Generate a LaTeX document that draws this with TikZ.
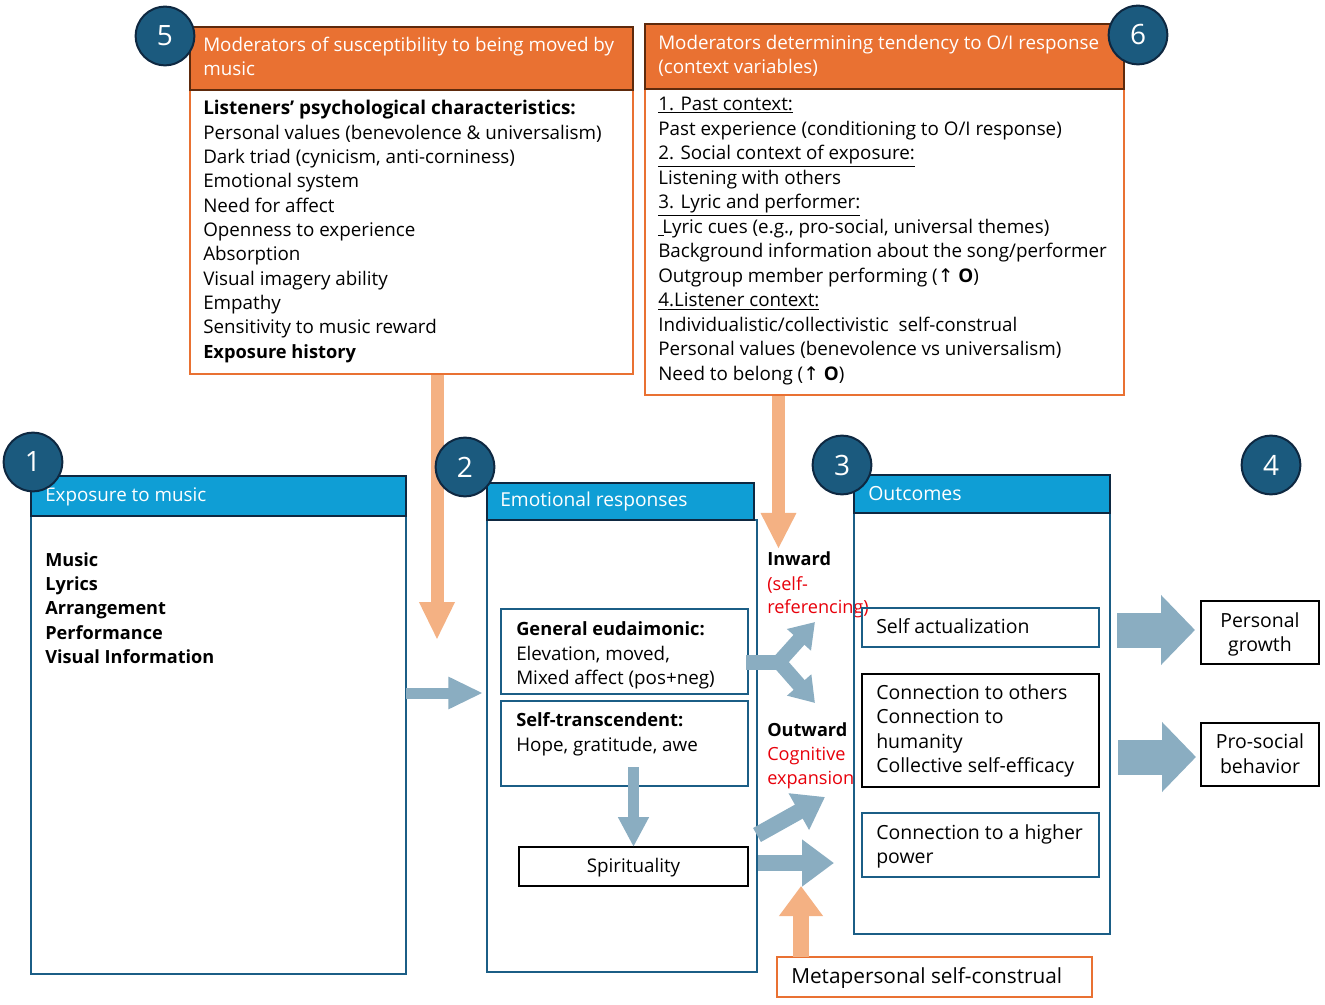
\documentclass[tikz,border=0pt]{standalone}
\usepackage{fontspec}
\setmainfont{Open Sans}
\newfontfamily\symfont{DejaVu Sans}
\usetikzlibrary{arrows.meta,fit}
\definecolor{ohead}{HTML}{E97132}
\definecolor{oedge}{HTML}{5E2A0C}
\definecolor{oline}{HTML}{E97132}
\definecolor{bhead}{HTML}{0F9ED5}
\definecolor{bedge}{HTML}{0E2841}
\definecolor{bline}{HTML}{1B5E86}
\definecolor{circfill}{HTML}{1B5A7E}
\definecolor{arrblue}{HTML}{8AADC1}
\definecolor{arrorange}{HTML}{F4B183}
\definecolor{redtxt}{HTML}{E8000B}
\newcommand\fs{\fontsize{14.1}{18.3}\selectfont}
\newcommand\fb{\fontsize{13.7}{18.3}\selectfont\bfseries}
\newcommand\fo{\fontsize{14.6}{18.3}\selectfont}
\tikzset{
  ohdr/.style={inner sep=0pt, fill=ohead, draw=oedge, line width=1.5pt},
  obody/.style={inner sep=0pt, fill=white, draw=oline, line width=1.1pt},
  bhdr/.style={inner sep=0pt, fill=bhead, draw=bedge, line width=1.5pt},
  bbody/.style={inner sep=0pt, draw=bline, line width=1.1pt},
  kbox/.style={inner sep=0pt, draw=black, line width=1.2pt},
  txt/.style={inner sep=0pt, anchor=base west, font=\fs},
  btxt/.style={inner sep=0pt, anchor=base west, font=\fb},
  otxt/.style={inner sep=0pt, anchor=base west, font=\fo},
  ctxt/.style={inner sep=0pt, anchor=base, font=\fo},
  wtxt/.style={txt, text=white},
  rtxt/.style={inner sep=0pt, anchor=base west, font=\fontsize{13.6}{18.3}\selectfont, text=redtxt},
  num/.style={circle, fill=circfill, draw=bedge, line width=1.5pt, minimum size=44pt, inner sep=0pt, text=white, font=\fontsize{21}{24}\selectfont},
}
\begin{document}
\begin{tikzpicture}[x=0.75pt,y=-0.75pt]
\useasboundingbox[fill=white] (0,0) rectangle (1325,1005);

% ---------- Box 5 ----------
\node[obody, fit={(190,90) (633,374)}] (b5) {};
\node[ohdr, fit={(190,27) (633,90)}] (h5) {};
\node[wtxt] (h5a) at (203,52) {Moderators of susceptibility to being moved by};
\node[wtxt] (h5b) at (203,76) {music};
\foreach \t [count=\i from 0] in {
  {{\fontsize{14.2}{18.3}\selectfont\bfseries Listeners’ psychological characteristics:}},
  {Personal values (benevolence \& universalism)},
  {Dark triad (cynicism, anti-corniness)},
  {Emotional system},
  {Need for affect},
  {Openness to experience},
  {Absorption},
  {Visual imagery ability},
  {Empathy},
  {Sensitivity to music reward},
  {{\fb Exposure history}}}
  \node[txt] (t5-\i) at (203,{115+24.33*\i}) {\t};

% ---------- Box 6 ----------
\node[obody, fit={(645,89) (1124,395)}] (b6) {};
\node[ohdr, fit={(645,24) (1124,89)}] (h6) {};
\node[wtxt] (h6a) at (658,50) {Moderators determining tendency to O/I response};
\node[wtxt] (h6b) at (658,74) {(context variables)};
\foreach \t [count=\i from 0] in {
  {\underline{1. Past context:}},
  {Past experience (conditioning to O/I response)},
  {\underline{2. Social context of exposure:}},
  {Listening with others},
  {\underline{3. Lyric and performer:}},
  {\underline{\kern4pt}\kern-1pt Lyric cues (e.g., pro-social, universal themes)},
  {Background information about the song/performer},
  {Outgroup member performing ({\symfont ↑} \textbf{O})},
  {\underline{4.Listener context:}},
  {Individualistic/collectivistic \ self-construal},
  {Personal values (benevolence vs universalism)},
  {Need to belong ({\symfont ↑} \textbf{O})}}
  \node[txt] (t6-\i) at (658,{110.5+24.55*\i}) {\t};

% ---------- Box 1 ----------
\node[bbody, fit={(31,516) (406,974)}] (b1) {};
\node[bhdr, fit={(31,476) (406,516)}] (h1) {};
\node[wtxt] (h1t) at (45,502) {Exposure to music};
\foreach \t [count=\i from 0] in {Music, Lyrics, Arrangement, Performance, {Visual Information}}
  \node[btxt, font=\fontsize{13.6}{18.3}\selectfont\bfseries] (t1-\i) at (45,{566+24.4*\i}) {\t};

% ---------- Box 2 ----------
\node[bbody, fit={(487,520) (757,972)}] (b2) {};
\node[bhdr, fit={(487,483) (754,520)}] (h2) {};
\node[wtxt, font=\fontsize{14.4}{18.3}\selectfont] (h2t) at (500,507) {Emotional responses};
\node[bbody, fit={(501,609) (748,694)}] (ge) {};
\node[btxt] (ge1) at (516,635) {General eudaimonic:};
\node[txt] (ge2) at (516,660) {Elevation, moved,};
\node[txt] (ge3) at (516,684) {Mixed affect (pos+neg)};
\node[bbody, fit={(501,701) (748,786)}] (st) {};
\node[btxt] (st1) at (516,726) {Self-transcendent:};
\node[txt] (st2) at (516,751) {Hope, gratitude, awe};
\node[kbox, fit={(519,847) (748,886)}] (sp) {};
\node[ctxt, font=\fontsize{14.1}{18.3}\selectfont] (spt) at (633.5,872) {Spirituality};

% ---------- Inward / Outward labels ----------
\node[btxt, font=\fontsize{13.6}{18.3}\selectfont\bfseries] (inw) at (767,565) {Inward};
\node[rtxt] (inw2) at (767,590) {(self-};
\node[rtxt] (inw3) at (767,613) {referencing)};
\node[btxt, font=\fontsize{13.6}{18.3}\selectfont\bfseries] (outw) at (767,736) {Outward};
\node[rtxt] (outw2) at (767,760) {Cognitive};
\node[rtxt] (outw3) at (767,784) {expansion};

% ---------- Box 3 ----------
\node[bbody, fit={(854,513) (1110,934)}] (b3) {};
\node[bhdr, fit={(854,475) (1110,513)}] (h3) {};
\node[wtxt, font=\fontsize{14.6}{18.3}\selectfont] (h3t) at (868,500) {Outcomes};
\node[bbody, fit={(862,608) (1099,647)}] (sa) {};
\node[otxt] (sat) at (876,633) {Self actualization};
\node[kbox, fit={(862,674) (1099,787)}] (co) {};
\foreach \t [count=\i from 0] in {{Connection to others},{Connection to},{humanity},{Collective self-efficacy}}
  \node[otxt] (co-\i) at (876,{699+24.6*\i}) {\t};
\node[bbody, fit={(862,813) (1099,877)}] (hp) {};
\node[otxt] (hp1) at (876,839) {Connection to a higher};
\node[otxt] (hp2) at (876,863) {power};

% ---------- Box 4 outputs ----------
\node[kbox, fit={(1201,601) (1319,664)}] (pg) {};
\node[ctxt] (pg1) at (1260,627) {Personal};
\node[ctxt] (pg2) at (1260,651) {growth};
\node[kbox, fit={(1201,723) (1319,786)}] (ps) {};
\node[ctxt] (ps1) at (1260,748) {Pro-social};
\node[ctxt] (ps2) at (1260,773) {behavior};

% ---------- Metapersonal ----------
\node[inner sep=0pt, draw=oline, line width=1.1pt, fit={(777,957) (1092,997)}] (mp) {};
\node[txt, font=\fontsize{15.6}{18.3}\selectfont] (mpt) at (791,983) {Metapersonal self-construal};

% ---------- connector coordinates ----------
\coordinate (a5s) at (437,375);
\coordinate (a5e) at (437,640);
\coordinate (a6s) at (778.5,396);
\coordinate (a6e) at (778.5,549);
\coordinate (a1s) at (406,693);
\coordinate (a1e) at (483,693);
\coordinate (asps) at (633.5,767);
\coordinate (aspe) at (633.5,847);
\coordinate (fks) at (746,662);
\coordinate (fkm) at (786,662);
\coordinate (fkj) at (779,662);
\coordinate (fku) at (815,622);
\coordinate (fkd) at (815,703);
\coordinate (lds) at (757,835);
\coordinate (lde) at (825,797);
\coordinate (lhs) at (758,863);
\coordinate (lhe) at (834,863);
\coordinate (mps) at (801,957);
\coordinate (mpe) at (801,886);
\coordinate (g1s) at (1117,630);
\coordinate (g1e) at (1195,630);
\coordinate (g2s) at (1118,757);
\coordinate (g2e) at (1196,757);

% ---------- arrows ----------
\draw[draw=arrorange, line width=9.75pt, -{Triangle[length=28.5pt,width=24.75pt]}] (a5s) -- (a5e);
\draw[draw=arrorange, line width=9.75pt, -{Triangle[length=27pt,width=24.75pt]}] (a6s) -- (a6e);
\draw[draw=arrblue, line width=8.25pt, -{Triangle[length=26pt,width=22.5pt]}] (a1s) -- (a1e);
\draw[draw=arrblue, line width=8.6pt, -{Triangle[length=22.5pt,width=21.75pt]}] (asps) -- (aspe);
\draw[draw=arrblue, line width=11.25pt] (fks) -- (fkm);
\draw[draw=arrblue, line width=11pt, -{Triangle[length=18pt,width=23pt]}] (fkj) -- (fku);
\draw[draw=arrblue, line width=11pt, -{Triangle[length=18pt,width=23pt]}] (fkj) -- (fkd);
\draw[draw=arrblue, line width=12pt, -{Triangle[length=22.5pt,width=30pt]}] (lds) -- (lde);
\draw[draw=arrblue, line width=12pt, -{Triangle[length=24pt,width=33.75pt]}] (lhs) -- (lhe);
\draw[draw=arrorange, line width=12pt, -{Triangle[length=22.5pt,width=31.5pt]}] (mps) -- (mpe);
\draw[draw=arrblue, line width=26.25pt, -{Triangle[length=25.5pt,width=51pt]}] (g1s) -- (g1e);
\draw[draw=arrblue, line width=26.25pt, -{Triangle[length=25.5pt,width=51pt]}] (g2s) -- (g2e);

% ---------- number circles ----------
\node[num] (n5) at (165,36) {5};
\node[num] (n6) at (1138,35) {6};
\node[num] (n1) at (33,462) {1};
\node[num] (n2) at (465,467) {2};
\node[num] (n3) at (842,465) {3};
\node[num] (n4) at (1271,465) {4};
\end{tikzpicture}
\end{document}
